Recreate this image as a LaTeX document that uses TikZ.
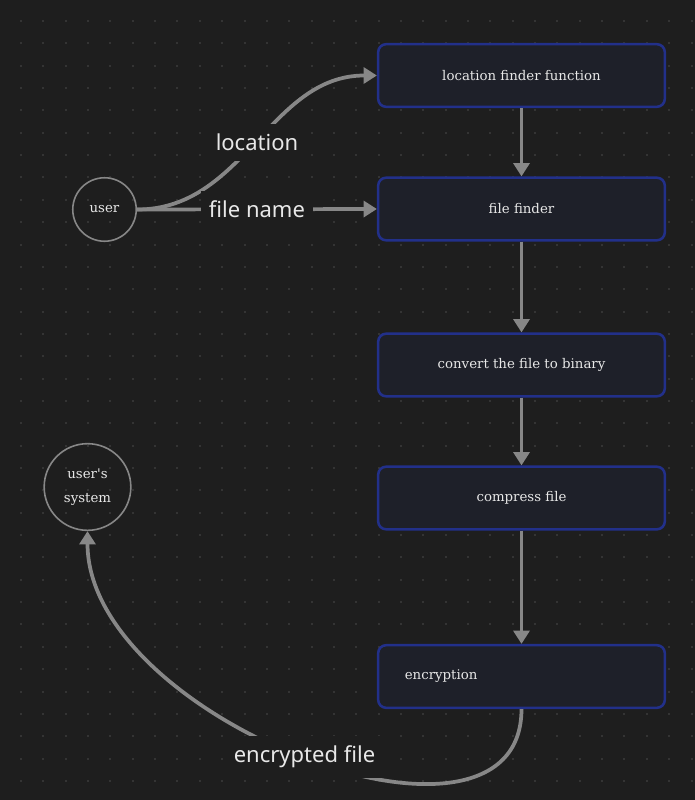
\documentclass[tikz,border=0pt]{standalone}
\usepackage{fontspec}
\setmainfont{DejaVu Serif}
\newfontfamily\labelfont{Noto Sans}
\usetikzlibrary{arrows.meta}

\definecolor{canvas}{HTML}{1E1E1E}
\definecolor{griddot}{HTML}{343434}
\definecolor{boxfill}{HTML}{1E2029}
\definecolor{boxblue}{HTML}{22308A}
\definecolor{linegray}{HTML}{878787}
\definecolor{nodetext}{HTML}{E8E8E8}

\tikzset{
  stepbox/.style={draw=boxblue, fill=boxfill, line width=1.9pt, rounded corners=6pt,
    minimum width=215pt, minimum height=47pt, text=nodetext,
    font=\fontsize{10}{12}\selectfont},
  actor/.style={circle, draw=linegray, line width=1.2pt, text=nodetext, align=center,
    inner sep=0pt, font=\fontsize{10}{18}\selectfont},
  flow/.style={draw=linegray, line width=2.8pt, -{Triangle[length=10pt,width=12pt]}},
  flowlabel/.style={fill=canvas, text=nodetext, inner xsep=6pt, inner ysep=7.5pt,
    font=\labelfont\fontsize{16.5}{20}\selectfont}
}

\begin{document}
\begin{tikzpicture}[x=0.75pt, y=-0.75pt]
  \useasboundingbox (0,0) rectangle (695,800);
  \fill[canvas] (0,0) rectangle (695,800);
  % dot grid
  \foreach \i in {0,...,30}
    \foreach \j in {0,...,35}
      \fill[griddot] (20+22.35*\i, 20+22.35*\j) rectangle ++(2,2);

  % actors
  \node[actor, minimum size=47.6pt] (user) at (104.5,209.5) {user};
  \node[actor, minimum size=65pt] (sys) at (87.5,487) {user\textquotesingle s\\system};

  % steps
  \node[stepbox] (loc) at (521.5,75.5) {location finder function};
  \node[stepbox] (find) at (521.5,209) {file finder};
  \node[stepbox] (bin) at (521.5,365) {convert the file to binary};
  \node[stepbox] (zip) at (521.5,498) {compress file};
  \node[stepbox, align=left, text width=175pt] (enc) at (521.5,676.5) {encryption};

  % connectors
  \draw[flow] (user.east) to[out=0, in=180] node[flowlabel] {location} (loc.west);
  \draw[flow] (user.east) -- node[flowlabel] {file name} (find.west);
  \draw[flow] (loc) -- (find);
  \draw[flow] (find) -- (bin);
  \draw[flow] (bin) -- (zip);
  \draw[flow] (zip) -- (enc);
  \draw[flow] (enc.south) .. controls +(0,175) and +(0,190) .. (sys.south)
    node[pos=0.5, flowlabel] {encrypted file};
\end{tikzpicture}
\end{document}
